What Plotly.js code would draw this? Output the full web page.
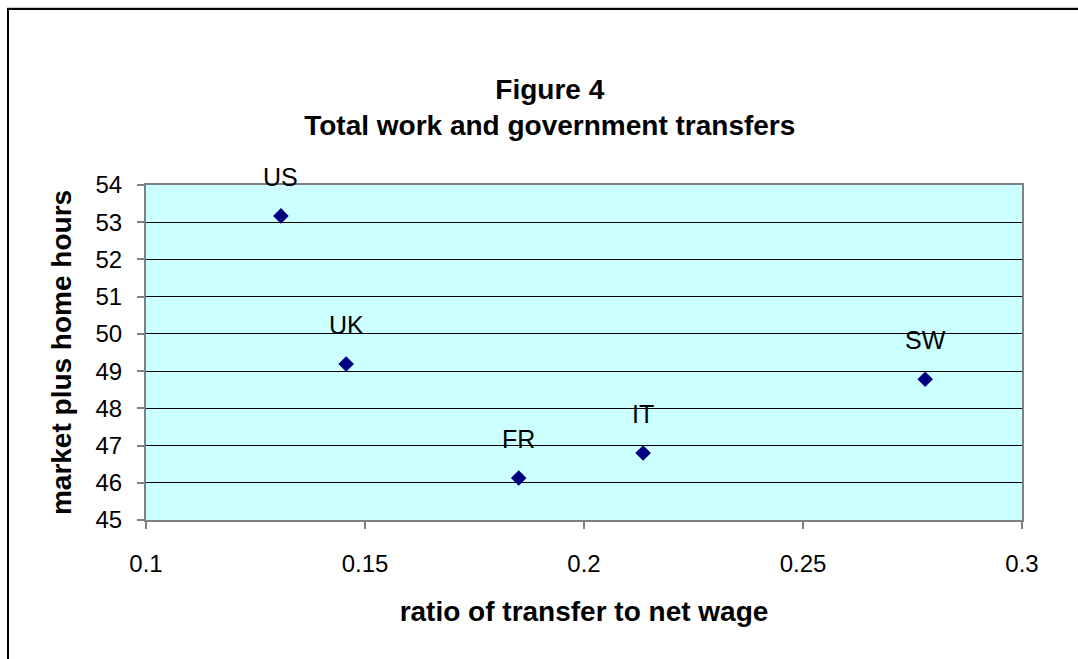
<!DOCTYPE html>
<html>
<head>
<meta charset="utf-8">
<script src="https://cdn.plot.ly/plotly-3.0.1.min.js"></script>
<style>
html,body{margin:0;padding:0;background:#fff;}
#wrap{position:relative;width:1078px;height:659px;overflow:hidden;}
#chart{width:1078px;height:659px;}
#frame{position:absolute;left:7px;top:8px;width:1200px;height:800px;border-left:2px solid #000;border-top:2px solid #000;box-shadow:0 -1px 0 #ccc;pointer-events:none;}
</style>
</head>
<body>
<div id="wrap">
<div id="chart"></div>
<div id="frame"></div>
</div>
<script>
const countries = ["US", "UK", "FR", "IT", "SW"];
const transferRatio = [0.1308, 0.1457, 0.1851, 0.2135, 0.2779];
const totalHours = [53.17, 49.19, 46.13, 46.80, 48.78];
const xTicks = [0.1, 0.15, 0.2, 0.25, 0.3];
const xTickLabels = ["0.1", "0.15", "0.2", "0.25", "0.3"];
const yTicks = [45, 46, 47, 48, 49, 50, 51, 52, 53, 54];

const font = "Arial, 'Liberation Sans', sans-serif";

const trace = {
  type: "scatter",
  mode: "markers",
  x: transferRatio,
  y: totalHours,
  marker: {symbol: "diamond", size: 12, color: "#000080", line: {width: 0}},
  hoverinfo: "skip",
  showlegend: false
};

const annotations = countries.map((c, i) => ({
  x: transferRatio[i], y: totalHours[i], xref: "x", yref: "y",
  text: c, showarrow: false, yshift: 39, yanchor: "middle",
  font: {family: font, size: 25, color: "#000"}
}));

const layout = {
  width: 1078, height: 659,
  margin: {l: 146, r: 56, t: 185, b: 139},
  paper_bgcolor: "#ffffff",
  plot_bgcolor: "#CCFFFF",
  title: {
    text: "<b>Figure 4<br>Total work and government transfers</b>",
    x: 0.510, xanchor: "center", xref: "container",
    y: 1 - 99 / 659, yref: "container", yanchor: "middle",
    font: {family: font, size: 28, color: "#000"}
  },
  xaxis: {
    range: [0.1, 0.3],
    tickvals: xTicks, ticktext: xTickLabels,
    ticks: "outside", ticklen: 7, tickcolor: "#808080", tickwidth: 2,
    ticklabelstandoff: 14,
    showgrid: false, zeroline: false,
    showline: true, linecolor: "#808080", linewidth: 2, mirror: true,
    tickfont: {family: font, size: 24, color: "#000"},
    title: {text: "<b>ratio of transfer to net wage</b>", standoff: 26,
            font: {family: font, size: 28, color: "#000"}}
  },
  yaxis: {
    range: [45, 54],
    tickvals: yTicks,
    ticks: "outside", ticklen: 7, tickcolor: "#808080", tickwidth: 2,
    ticklabelstandoff: 10,
    showgrid: true, gridcolor: "#000000", gridwidth: 1,
    zeroline: false,
    showline: true, linecolor: "#808080", linewidth: 2, mirror: true,
    tickfont: {family: font, size: 24, color: "#000"},
    title: {text: "<b>market plus home hours</b>", standoff: 16,
            font: {family: font, size: 28, color: "#000"}}
  },
  annotations: annotations
};

Plotly.newPlot("chart", [trace], layout, {staticPlot: true, displayModeBar: false});
</script>
</body>
</html>
